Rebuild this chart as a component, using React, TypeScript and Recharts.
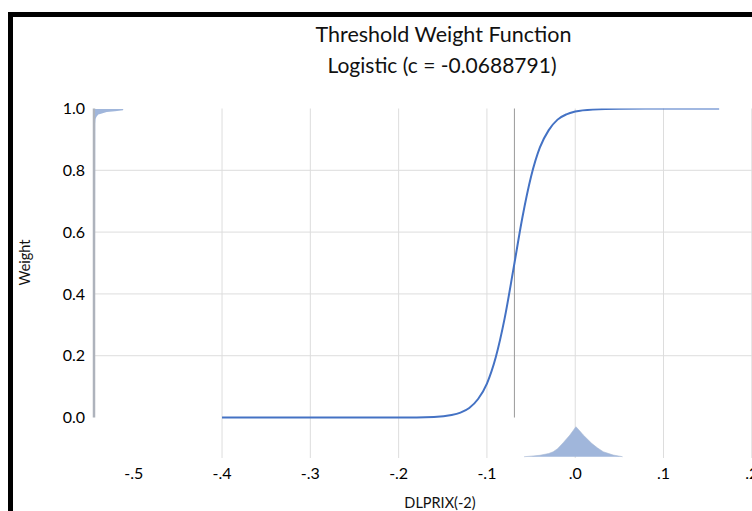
import React from 'react';
import {
  ComposedChart,
  AreaChart,
  Area,
  Line,
  XAxis,
  YAxis,
  CartesianGrid,
  ReferenceLine,
} from 'recharts';

// ---- text ----
const titleText = 'Threshold Weight Function';
const subtitleText = 'Logistic (c = -0.0688791)';
const xAxisTitle = 'DLPRIX(-2)';
const yAxisTitle = 'Weight';

// ---- axes ----
const thresholdC = -0.0688791;
const xTicks = [-0.5, -0.4, -0.3, -0.2, -0.1, 0, 0.1, 0.2];
const xGridValues = [-0.4, -0.3, -0.2, -0.1, 0, 0.1, 0.2];
const yTicks = [0, 0.2, 0.4, 0.6, 0.8, 1.0];
const yGridValues = [0.2, 0.4, 0.6, 0.8];

// ---- logistic weight curve ----
const curveX = [-0.4, -0.3, -0.2, -0.16, -0.14, -0.13, -0.12, -0.11, -0.1, -0.09, -0.08, -0.07, -0.06, -0.05, -0.04, -0.03, -0.02, -0.01, 0, 0.02, 0.05, 0.1, 0.163];
const curveW = [0, 0, 0.0002, 0.002, 0.008, 0.016, 0.031, 0.06, 0.11, 0.195, 0.32, 0.48, 0.645, 0.78, 0.874, 0.93, 0.964, 0.981, 0.99, 0.997, 0.9995, 1, 1];

// ---- density of DLPRIX(-2) along the bottom ----
const densX = [-0.058, -0.05, -0.04, -0.03, -0.0249, -0.02, -0.0136, -0.006, 0.0008, 0.005, 0.0091, 0.0186, 0.025, 0.0317, 0.043, 0.0537];
const densY = [-0.1269, -0.125, -0.1223, -0.1165, -0.1107, -0.101, -0.0816, -0.0566, -0.0298, -0.043, -0.0566, -0.0835, -0.098, -0.1107, -0.1214, -0.1269];
const densBase = -0.1269;

// ---- density of the weights along the left ----
const weightLevels = [0, 0.5, 0.952, 0.968, 0.975, 0.982, 0.985, 0.99, 0.993, 0.996, 1.0];
const weightDensity = [0, 0, 0.2, 0.5, 1.5, 3.3, 6, 11.7, 20, 28, 28.3];

const curveData = curveX.map((x, i) => ({ x, w: curveW[i] }));
const densData = densX.map((x, i) => ({ x, y: densY[i] }));
const weightData = weightLevels.map((w, i) => ({ w, d: weightDensity[i] }));

const FONT = 'Lato, "Noto Sans", sans-serif';
const fmtX = (v: number) => {
  const s = v.toFixed(1);
  return s.replace(/^(-?)0\./, '$1.');
};

export default function App() {
  return (
    <div
      style={{
        position: 'fixed',
        left: 0,
        top: 0,
        width: 752,
        height: 511,
        overflow: 'hidden',
        background: '#fff',
      }}
    >
      <div
        style={{
          position: 'absolute',
          left: 8,
          top: 12,
          width: 800,
          height: 600,
          borderTop: '5px solid #000',
          borderLeft: '5px solid #000',
          boxSizing: 'border-box',
        }}
      />
      <div style={{ position: 'absolute', left: 0, top: 0 }}>
        <ComposedChart width={792} height={490} margin={{ top: 108.5, right: 0, bottom: 2, left: 0 }}>
          <CartesianGrid horizontalValues={yGridValues} verticalValues={xGridValues} stroke="#DDDDDD" />
          <XAxis
            type="number"
            dataKey="x"
            domain={[-0.545, 0.2455]}
            allowDataOverflow
            ticks={xTicks}
            interval={0}
            tickFormatter={fmtX}
            tickSize={0}
            tickMargin={10}
            axisLine={false}
            height={30}
            tick={{ fontFamily: FONT, fontSize: 16, fill: '#000' }}
          />
          <YAxis
            type="number"
            domain={[-0.131, 1]}
            allowDataOverflow
            ticks={yTicks}
            interval={0}
            tickFormatter={(v: number) => v.toFixed(1)}
            width={94}
            tickSize={0}
            tickMargin={9}
            axisLine={false}
            tick={{ fontFamily: FONT, fontSize: 16, fill: '#000' }}
          />
          <Area
            data={densData}
            dataKey="y"
            type="linear"
            baseValue={densBase}
            fill="#A0B6DB"
            fillOpacity={1}
            stroke="#A8B8D4"
            strokeWidth={0.6}
            isAnimationActive={false}
          />
          <ReferenceLine segment={[{ x: -0.545, y: 0 }, { x: -0.545, y: 1 }]} stroke="#AEB3BC" strokeWidth={2.5} />
          <ReferenceLine segment={[{ x: thresholdC, y: 0 }, { x: thresholdC, y: 1 }]} stroke="#999999" strokeWidth={1} />
          <Line
            data={curveData}
            dataKey="w"
            type="monotone"
            stroke="#4472C4"
            strokeWidth={2}
            dot={false}
            isAnimationActive={false}
          />
        </ComposedChart>
      </div>
      <div style={{ position: 'absolute', left: 95, top: 108.5 }}>
        <AreaChart width={40} height={309} layout="vertical" data={weightData} margin={{ top: 0, right: 0, bottom: 0, left: 0 }}>
          <XAxis type="number" domain={[0, 40]} hide />
          <YAxis type="number" dataKey="w" domain={[0, 1]} reversed hide />
          <Area dataKey="d" type="linear" fill="#A0B6DB" fillOpacity={1} stroke="none" isAnimationActive={false} />
        </AreaChart>
      </div>
      <svg width={752} height={511} style={{ position: 'absolute', left: 0, top: 0, pointerEvents: 'none' }}>
        <text x={443.5} y={41.5} textAnchor="middle" fontFamily={FONT} fontSize={21.5} fill="#111">{titleText}</text>
        <text x={442} y={73} textAnchor="middle" fontFamily={FONT} fontSize={21} fill="#111">{subtitleText}</text>
        <text x={440} y={507.5} textAnchor="middle" fontFamily={FONT} fontSize={14.5} fill="#111">{xAxisTitle}</text>
        <text x={30} y={262.5} textAnchor="middle" fontFamily={FONT} fontSize={14.5} fill="#111" transform="rotate(-90 30 262.5)">{yAxisTitle}</text>
      </svg>
    </div>
  );
}
